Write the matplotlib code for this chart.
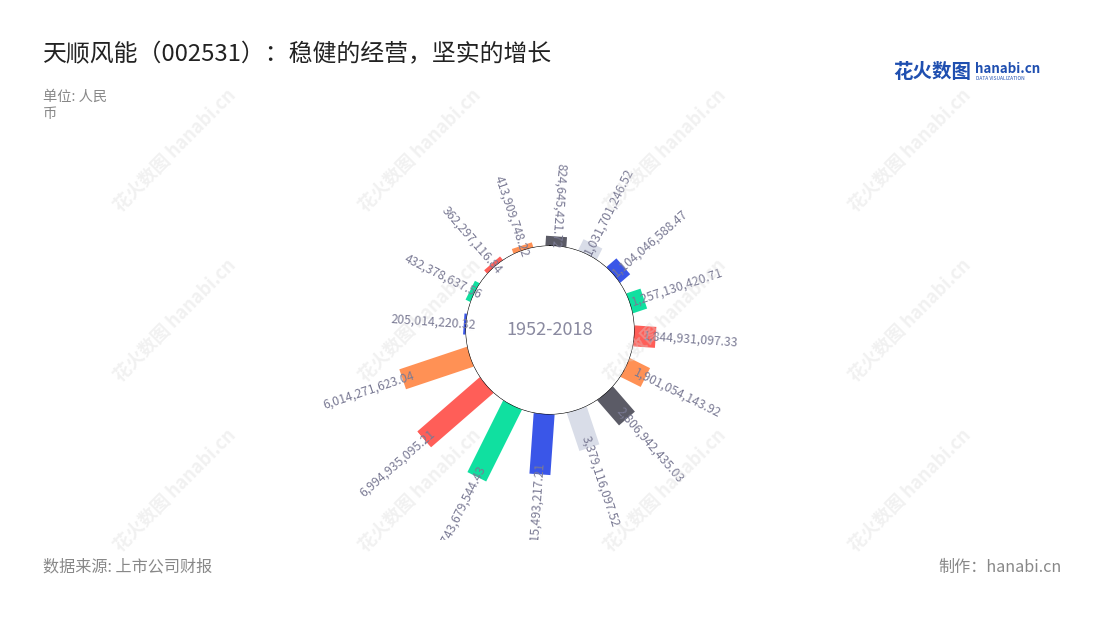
import numpy as np
import matplotlib
matplotlib.use("Agg")
import matplotlib.pyplot as plt
from matplotlib.transforms import Bbox, TransformedBbox

plt.rcParams['font.family'] = ['Noto Sans CJK SC', 'DejaVu Sans']

# ---------------- data ----------------
years = [str(y) for y in range(2003, 2019)]
revenue = [205014220.32, 432378637.56, 362297116.84, 413909748.22,
           824645421.72, 1031701246.52, 1104046588.47, 1257130420.71,
           1844931097.33, 1901054143.92, 2806942435.03, 3379116097.52,
           5115493217.21, 6743679544.43, 6994935095.21, 6014271623.04]
palette = ['#3a56e8', '#10e0a0', '#ff5e58', '#ff9155', '#5b5b66', '#d9dde8']
title = '天顺风能（002531）：稳健的经营，坚实的增长'
unit_text = '单位: 人民\n币'
center_text = '1952-2018'
source_text = '数据来源: 上市公司财报'
maker_text = '制作：hanabi.cn'

# ---------------- layout ----------------
W, H = 1100, 620
fig = plt.figure(figsize=(W / 100, H / 100), dpi=100)
fig.patch.set_facecolor('white')

cx, cy = 550, 330          # centre of the ring in px
hole_px = 84               # inner ring radius in px
px_per_val = 83 / 6994935095.21
rmax = 7.0e9
outer_px = hole_px + rmax * px_per_val
ax = fig.add_axes([(cx - outer_px) / W, (H - cy - outer_px) / H,
                   2 * outer_px / W, 2 * outer_px / H], projection='polar')
ax.set_theta_zero_location('N')
ax.set_theta_direction(-1)
ax.set_rlim(0, rmax)
ax.set_rorigin(-hole_px / px_per_val)
ax.set_axis_off()

start_deg = 274.0
step = 360.0 / len(revenue)
theta_deg = [(start_deg + i * step) % 360 for i in range(len(revenue))]
theta = np.radians(theta_deg)
colors = [palette[i % len(palette)] for i in range(len(revenue))]

bar_lw_pt = 21 * 72 / 100
ax.vlines(theta, 0, revenue, colors=colors, linewidth=bar_lw_pt,
          capstyle='butt', zorder=2)

# inner circle
tt = np.linspace(0, 2 * np.pi, 400)
ax.plot(tt, np.zeros_like(tt), color='black', lw=0.8, zorder=3)

# labels (clipped at the bottom of the plotting area)
clip = TransformedBbox(Bbox([[0, 80 / H], [1, 1]]), fig.transFigure)
shift = 12 / px_per_val
for th, deg, v in zip(theta, theta_deg, revenue):
    math_ang = (90 - deg) % 360
    flip = 80 < math_ang <= 270
    if flip:
        rot = math_ang - 180
        ha = 'right'
    else:
        rot = math_ang
        ha = 'left'
    t = ax.text(th, v - shift, f'{v:,.2f}', rotation=rot, rotation_mode='anchor',
                ha=ha, va='center', fontsize=8.8, color='#7a7a94',
                fontweight='medium', zorder=4)
    t.set_clip_on(True)
    t.set_clip_box(clip)

ax.text(0.5, 0.5, center_text, transform=ax.transAxes, ha='center',
        va='center', fontsize=13.1, color='#8a8aa0', zorder=5)

# ---------------- watermarks ----------------
for wx in [175, 420, 665, 910]:
    for wy in [150, 320, 490]:
        fig.text(wx / W, 1 - wy / H, '花火数图 hanabi.cn', rotation=45,
                 ha='center', va='center', fontsize=13, color='#d8d8d8',
                 alpha=0.35, fontweight='bold', zorder=0)

# ---------------- texts ----------------
fig.text(43 / W, 1 - 55 / H, title, ha='left', va='center', fontsize=17.2,
         color='#222222')
fig.text(43 / W, 1 - 90 / H, unit_text, ha='left', va='top', fontsize=10.3,
         color='#888888', linespacing=1.25)
fig.text(43 / W, 1 - 567 / H, source_text, ha='left', va='center',
         fontsize=11.6, color='#888888')
fig.text(1062 / W, 1 - 567 / H, maker_text, ha='right', va='center',
         fontsize=11.6, color='#888888')

# logo
fig.text(893 / W, 1 - 72 / H, '花火数图', ha='left', va='center', fontsize=14,
         color='#1f4fb0', fontweight='bold')
fig.text(975 / W, 1 - 69 / H, 'hanabi.cn', ha='left', va='center',
         fontsize=9.6, color='#1f4fb0', fontweight='bold')
fig.text(976 / W, 1 - 79 / H, 'DATA VISUALIZATION', ha='left', va='center',
         fontsize=3.5, color='#1f4fb0')

fig.savefig('out.png', dpi=100)
